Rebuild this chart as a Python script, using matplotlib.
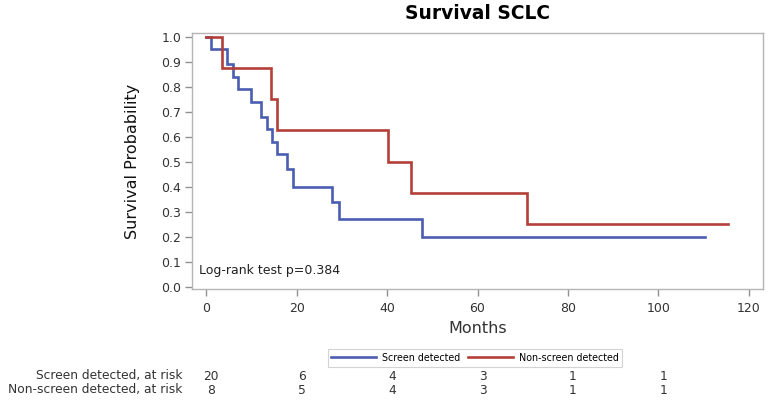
import matplotlib
matplotlib.use("Agg")
import matplotlib.pyplot as plt
from matplotlib.transforms import blended_transform_factory, ScaledTranslation
from matplotlib.lines import Line2D

# Data
screen_t = [0, 1.0, 4.5, 6.0, 7.1, 9.8, 12.1, 13.5, 14.5, 15.7, 17.8, 19.1, 27.7, 29.4, 47.8, 110.4]
screen_s = [1.0, 0.95, 0.89, 0.84, 0.79, 0.74, 0.68, 0.63, 0.58, 0.53, 0.47, 0.40, 0.34, 0.27, 0.20, 0.20]
nonscreen_t = [0, 3.4, 14.3, 15.7, 40.1, 45.3, 70.9, 115.4]
nonscreen_s = [1.0, 0.875, 0.75, 0.625, 0.50, 0.375, 0.25, 0.25]
risk_times = [0, 20, 40, 60, 80, 100]
screen_risk = [20, 6, 4, 3, 1, 1]
nonscreen_risk = [8, 5, 4, 3, 1, 1]
x_ticks = [0, 20, 40, 60, 80, 100, 120]
y_ticks = [0.0, 0.1, 0.2, 0.3, 0.4, 0.5, 0.6, 0.7, 0.8, 0.9, 1.0]
labels = ["Screen detected", "Non-screen detected"]

blue = "#4a5db0"
red = "#b33f38"
gray_txt = "#333333"
spine = "#b5b5b5"

fig = plt.figure(figsize=(7.68, 4.01), dpi=100)
ax = fig.add_axes([192.3 / 768, 1 - 289 / 401, (762.7 - 192.3) / 768, (289 - 33.3) / 401])

ax.step(screen_t, screen_s, where="post", color=blue, lw=1.9, solid_joinstyle="miter")
ax.step(nonscreen_t, nonscreen_s, where="post", color=red, lw=1.9, solid_joinstyle="miter")

ax.set_xlim(-3.1, 123.1)
ax.set_ylim(-0.01, 1.0135)
ax.set_xticks(x_ticks)
ax.set_yticks(y_ticks)
ax.set_yticklabels([f"{v:.1f}" for v in y_ticks])
for s in ax.spines.values():
    s.set_color(spine)
    s.set_linewidth(1.0)
ax.tick_params(axis="both", direction="out", length=5, width=1, color="#909090",
               labelcolor=gray_txt, labelsize=9)
ax.tick_params(axis="x", pad=4)
ax.tick_params(axis="y", pad=3)

ax.set_xlabel("Months", fontsize=11.5, color=gray_txt, labelpad=5)
ax.set_ylabel("Survival Probability", fontsize=11.5, color="#111111", labelpad=15)
ax.set_title("Survival SCLC", fontsize=13.4, fontweight="bold", pad=10)

ax.text(0.012, 0.045, "Log-rank test p=0.384", transform=ax.transAxes, fontsize=9,
        color="#222222", ha="left", va="bottom")

# Legend
handles = [Line2D([], [], color=blue, lw=1.9), Line2D([], [], color=red, lw=1.9)]
leg = fig.legend(handles, labels, loc="center", bbox_to_anchor=(475 / 768, 1 - 358 / 401),
                 ncol=2, frameon=True, fancybox=False, handlelength=4.2,
                 handletextpad=0.5, columnspacing=0.8, borderpad=0.35,
                 prop={"family": "DejaVu Sans", "stretch": "condensed", "size": 7.7})
leg.get_frame().set_edgecolor("#c8c8c8")
leg.get_frame().set_linewidth(0.8)

# At-risk table
tr = blended_transform_factory(ax.transData, fig.transFigure) + ScaledTranslation(5 / 100, 0, fig.dpi_scale_trans)
rows = [("Screen detected, at risk", screen_risk, 1 - 376 / 401),
        ("Non-screen detected, at risk", nonscreen_risk, 1 - 390 / 401)]
for name, vals, yy in rows:
    fig.text(182 / 768, yy, name, ha="right", va="center", fontsize=8.8, color=gray_txt)
    for t, v in zip(risk_times, vals):
        ax.text(t, yy, str(v), transform=tr, ha="center", va="center", fontsize=8.8,
                color=gray_txt, clip_on=False)

fig.savefig("out.png", dpi=100)
